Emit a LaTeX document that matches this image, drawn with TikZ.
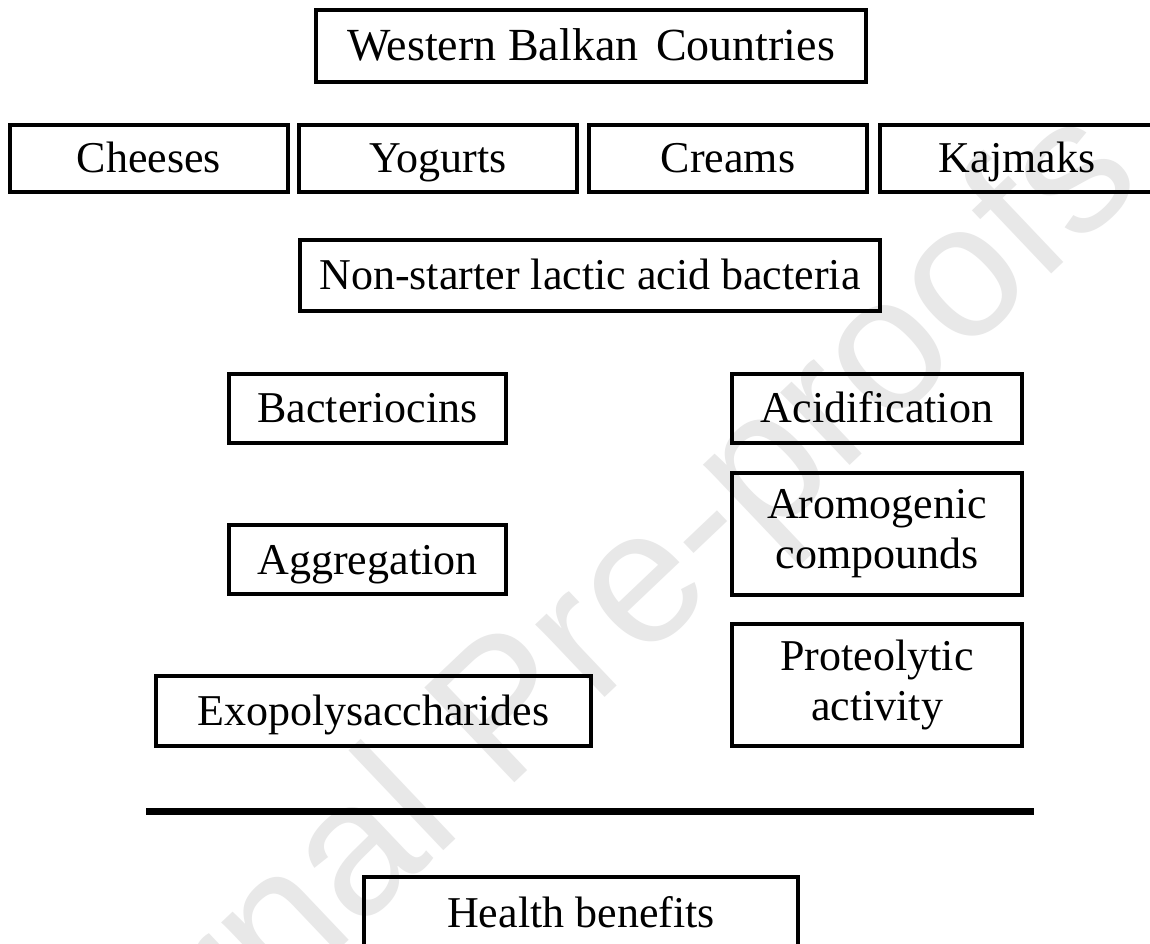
\documentclass[tikz,border=0pt]{standalone}
\usepackage{fontspec}
\setmainfont{Liberation Serif}
\newfontfamily\wmfont{Liberation Sans}
\begin{document}
\begin{tikzpicture}[x=1pt,y=1pt,
  boxline/.style={draw=black,line width=3.6pt},
  lbl/.style={font=\fontsize{44}{50}\selectfont,align=center,inner sep=0pt},
  oneline/.style={text height=29pt,text depth=0pt},
  wmark/.style={font=\wmfont\fontsize{190}{190}\selectfont,text=black!9,inner sep=0pt}]
\useasboundingbox (0,0) rectangle (1150,943);
\clip (0,0) rectangle (1150,943);
\fill[white] (0,0) rectangle (1150,943);
% watermark
\node[wmark,rotate=43.5,anchor=base] (wm) at (580,222) {Journal Pre-proofs};
% boxes  (x from left, y = 943 - image y)
\newcommand{\mybox}[7]{%
  \draw[boxline] (#3,943-#4) rectangle (#5,943-#6);
  \node[lbl,#2] (#1) at ({(#3+#5)/2},{943-(#4+#6)/2}) {#7};}
\mybox{wbc}{oneline,font=\fontsize{46}{52}\selectfont,text height=30pt}{316}{10}{866}{82}{Western Balkan\hspace{6pt} Countries}
\mybox{chee}{oneline}{10}{125}{288}{192}{Cheeses}
\mybox{yog}{oneline}{299}{125}{577}{192}{Yogurts}
\mybox{crea}{oneline}{589}{125}{867}{192}{Creams}
\mybox{kaj}{oneline}{880}{125}{1154}{192}{Kajmaks}
\mybox{nslab}{oneline}{300}{240}{880}{311}{Non-starter lactic acid bacteria}
\mybox{bact}{oneline}{229}{374}{506}{443}{Bacteriocins}
\mybox{acid}{oneline}{732}{374}{1022}{443}{Acidification}
\mybox{arom}{}{732}{473}{1022}{595}{Aromogenic\\compounds}
\mybox{aggr}{oneline}{229}{525}{506}{594}{Aggregation}
\mybox{prot}{}{732}{624}{1022}{746}{Proteolytic\\activity}
\mybox{exo}{oneline}{156}{676}{591}{746}{Exopolysaccharides}
\mybox{hlth}{oneline}{364}{877}{798}{948}{Health benefits}
% separator
\coordinate (sepL) at (146,943-811.5);
\coordinate (sepR) at (1034,943-811.5);
\draw[line width=7pt] (sepL) -- (sepR);
\end{tikzpicture}
\end{document}
